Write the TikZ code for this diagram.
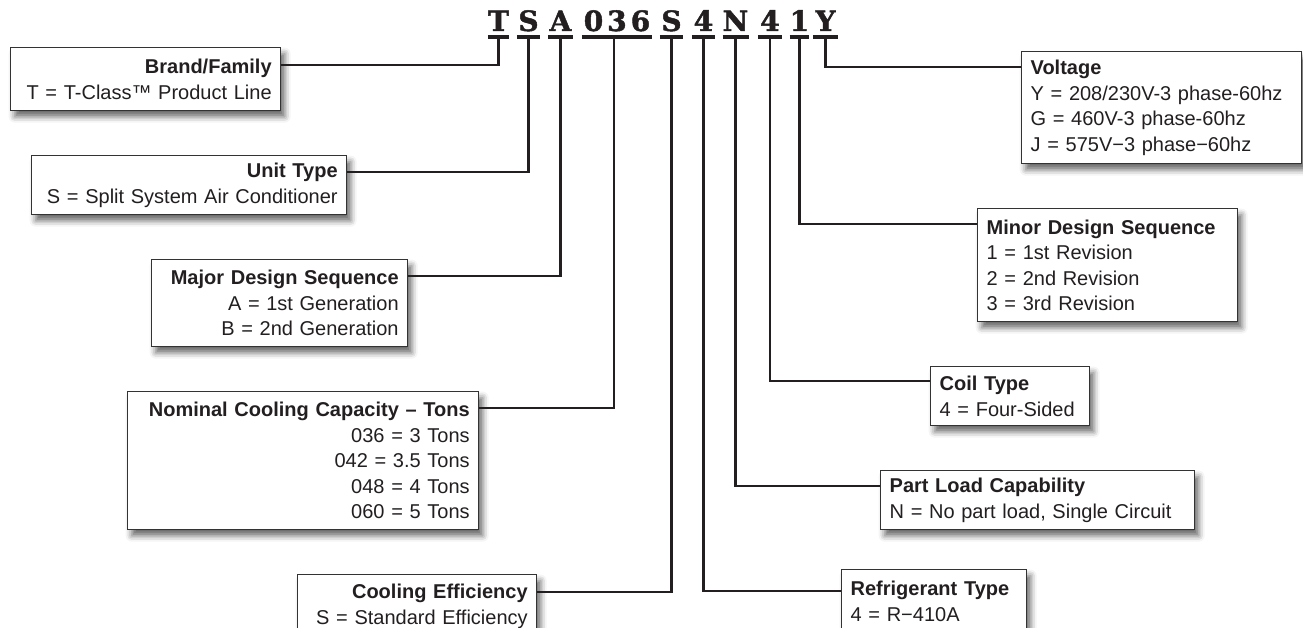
\documentclass[tikz,border=0pt]{standalone}
\usepackage{fontspec}
\setmainfont{Liberation Sans}
\newfontfamily\codefont[FakeBold=1.6]{DejaVu Serif Bold}
\usetikzlibrary{calc,shadows.blur}
\definecolor{ink}{HTML}{231F20}
\definecolor{boxc}{HTML}{333333}
\tikzset{
  basebox/.style={draw=boxc, line width=1.3pt, fill=white, text=ink,
    inner xsep=9pt, inner ysep=0pt,
    font=\fontsize{20}{25.5}\selectfont,
    blur shadow={shadow xshift=4pt, shadow yshift=-6pt, shadow blur radius=6pt, shadow opacity=60}},
  lbox/.style={basebox, anchor=north west, align=right},
  rbox/.style={basebox, anchor=north west, align=left},
  code/.style={font=\codefont\fontsize{28}{28}\selectfont, text=ink, inner sep=0pt, anchor=base},
  uline/.style={draw=ink, line width=3.5pt},
  conn/.style={draw=ink, line width=2.8pt}
}
\begin{document}
\begin{tikzpicture}[x=1pt,y=-1pt]
\useasboundingbox (0,0) rectangle (1303,628);
% code letters
\node[code, minimum width=17] (lT) at (498.5,31) {T};
\node[code, minimum width=23] (lS) at (528.5,31) {S};
\node[code, minimum width=25] (lA) at (560.5,31) {A};
\node[code, minimum width=70] (lNum) at (617,31) {0\hspace{4pt}3\hspace{4pt}6};
\node[code, minimum width=23] (lSb) at (671.5,31) {S};
\node[code, minimum width=23] (lFa) at (703.5,31) {4};
\node[code, minimum width=25] (lN) at (735.5,31) {N};
\node[code, minimum width=24] (lFb) at (770,31) {4};
\node[code, minimum width=15] (lOne) at (799.5,31) {1};
\node[code, minimum width=25] (lY) at (825.5,31) {Y};
\foreach \n in {lT,lS,lA,lNum,lSb,lFa,lN,lFb,lOne,lY}{
  \draw[uline] ($(\n.base west)+(0,6)$) -- ($(\n.base east)+(0,6)$);
  \coordinate (u\n) at ($(\n.base)+(0,6)$);
}
% left boxes
\node[lbox, minimum width=270, minimum height=63, text width=252] (brand) at (10,47)
  {\textbf{Brand/Family}\\T = T-Class™ Product Line};
\node[lbox, minimum width=315, minimum height=59, text width=297] (unit) at (31,155)
  {\textbf{Unit Type}\\\mbox{S = Split System Air Conditioner}};
\node[lbox, minimum width=256, minimum height=87, text width=238] (major) at (151,259)
  {\textbf{Major Design Sequence}\\A = 1st Generation\\B = 2nd Generation};
\node[lbox, minimum width=351, minimum height=138, text width=333] (nominal) at (127,391)
  {\textbf{Nominal Cooling Capacity – Tons}\\036 = 3 Tons\\042 = 3.5 Tons\\048 = 4 Tons\\060 = 5 Tons};
\node[lbox, minimum width=239, minimum height=63, text width=221] (cooling) at (297,574)
  {\textbf{Cooling Efficiency}\\S = Standard Efficiency};
% right boxes
\node[rbox, minimum width=280, minimum height=112, text width=262] (volt) at (1021,51)
  {\textbf{Voltage}\\Y = 208/230V-3 phase-60hz\\G = 460V-3 phase-60hz\\J = 575V−3 phase−60hz};
\node[rbox, minimum width=260, minimum height=113, text width=242] (minor) at (977,208)
  {\textbf{Minor Design Sequence}\\1 = 1st Revision\\2 = 2nd Revision\\3 = 3rd Revision};
\node[rbox, minimum width=159, minimum height=59, text width=141] (coil) at (930,366)
  {\textbf{Coil Type}\\4 = Four-Sided};
\node[rbox, minimum width=314, minimum height=59, text width=296] (part) at (880,470)
  {\textbf{Part Load Capability}\\N = No part load, Single Circuit};
\node[rbox, minimum width=185, minimum height=63, text width=167] (refrig) at (841,569)
  {\textbf{Refrigerant Type}\\4 = R−410A};
% connectors
\draw[conn] (ulT) |- ($(brand.north east)+(0,18)$);
\draw[conn] (ulS) |- ($(unit.north east)+(0,17)$);
\draw[conn] (ulA) |- ($(major.north east)+(0,17)$);
\draw[conn] ([xshift=-3pt]ulNum) |- ($(nominal.north east)+(0,17)$);
\draw[conn] (ulSb) |- ($(cooling.north east)+(0,18)$);
\draw[conn] (ulFa) |- ($(refrig.north west)+(0,22)$);
\draw[conn] (ulN) |- ($(part.north west)+(0,16)$);
\draw[conn] (ulFb) |- ($(coil.north west)+(0,15)$);
\draw[conn] (ulOne) |- ($(minor.north west)+(0,16)$);
\draw[conn] (ulY) |- ($(volt.north west)+(0,16)$);
\end{tikzpicture}
\end{document}
